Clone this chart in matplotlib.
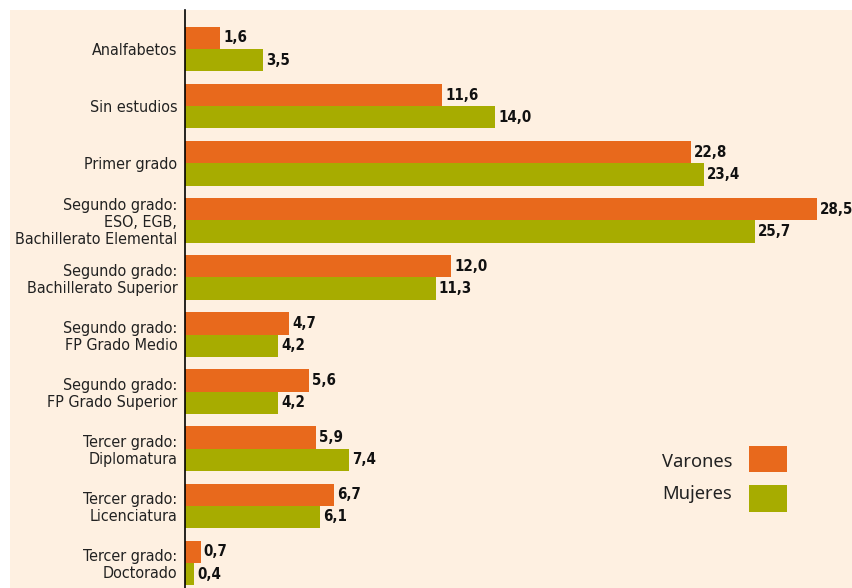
import matplotlib
matplotlib.use("Agg")
import matplotlib.pyplot as plt
from matplotlib.patches import Rectangle

categories = ["Analfabetos", "Sin estudios", "Primer grado",
              "Segundo grado:\nESO, EGB,\nBachillerato Elemental",
              "Segundo grado:\nBachillerato Superior",
              "Segundo grado:\nFP Grado Medio",
              "Segundo grado:\nFP Grado Superior",
              "Tercer grado:\nDiplomatura",
              "Tercer grado:\nLicenciatura",
              "Tercer grado:\nDoctorado"]
varones = [1.6, 11.6, 22.8, 28.5, 12.0, 4.7, 5.6, 5.9, 6.7, 0.7]
mujeres = [3.5, 14.0, 23.4, 25.7, 11.3, 4.2, 4.2, 7.4, 6.1, 0.4]
series_names = ["Varones", "Mujeres"]

ORANGE = "#E8691C"
GREEN = "#A7AC00"
BG = "#FEF0E1"

W, H = 852, 588
fig = plt.figure(figsize=(W / 100, H / 100), dpi=100, facecolor="white")
fig.patches.append(Rectangle((10 / W, 0), 1 - 10 / W, 1 - 10 / H,
                             transform=fig.transFigure, facecolor=BG,
                             edgecolor="none", zorder=-5))
ax = fig.add_axes([185 / W, 0, 1 - 185 / W, 1 - 10 / H])
ax.set_zorder(1)
ax.set_facecolor(BG)

unit = (817 - 185) / 28.5
ax.set_xlim(0, (W - 185) / unit)
sp = 57.0
top = (10 - 49) / sp
bot = (588 - 50) / sp
ax.set_ylim(bot, top)

y = list(range(len(categories)))
h = 0.39
ax.barh([v - h / 2 for v in y], varones, height=h, color=ORANGE, zorder=2)
ax.barh([v + h / 2 for v in y], mujeres, height=h, color=GREEN, zorder=2)

def fmt(v):
    return f"{v:.1f}".replace(".", ",")

for i in y:
    for vals, off in ((varones, -h / 2), (mujeres, h / 2)):
        ax.annotate(fmt(vals[i]), (vals[i], i + off), xytext=(2.3, 0),
                    textcoords="offset points", va="center", ha="left",
                    fontsize=10.8, fontweight="bold", family="DejaVu Sans",
                    fontstretch="condensed", color="#111111",
                    annotation_clip=False)

ax.set_yticks(y)
ax.set_yticklabels(categories, family="DejaVu Sans", fontstretch="condensed",
                   fontsize=11.5, linespacing=1.15, color="#222222")
ax.tick_params(axis="y", length=0, pad=5.5)
ax.set_xticks([])
for s in ["top", "right", "bottom"]:
    ax.spines[s].set_visible(False)
ax.spines["left"].set_color("black")
ax.spines["left"].set_linewidth(1.2)

# legend
for j, (name, col) in enumerate(zip(series_names, [ORANGE, GREEN])):
    ytop = [446, 485][j]
    hh = [26, 27][j]
    fig.patches.append(Rectangle((749 / W, 1 - (ytop + hh) / H), 38 / W, hh / H,
                                 transform=fig.transFigure, facecolor=col,
                                 edgecolor="none", zorder=3))
    fig.text(662 / W, 1 - [462, 494][j] / H, name, fontsize=13.2,
             family="Noto Sans", va="center", ha="left", color="#222222",
             zorder=4)

fig.savefig("out.png", dpi=100, facecolor="white")
